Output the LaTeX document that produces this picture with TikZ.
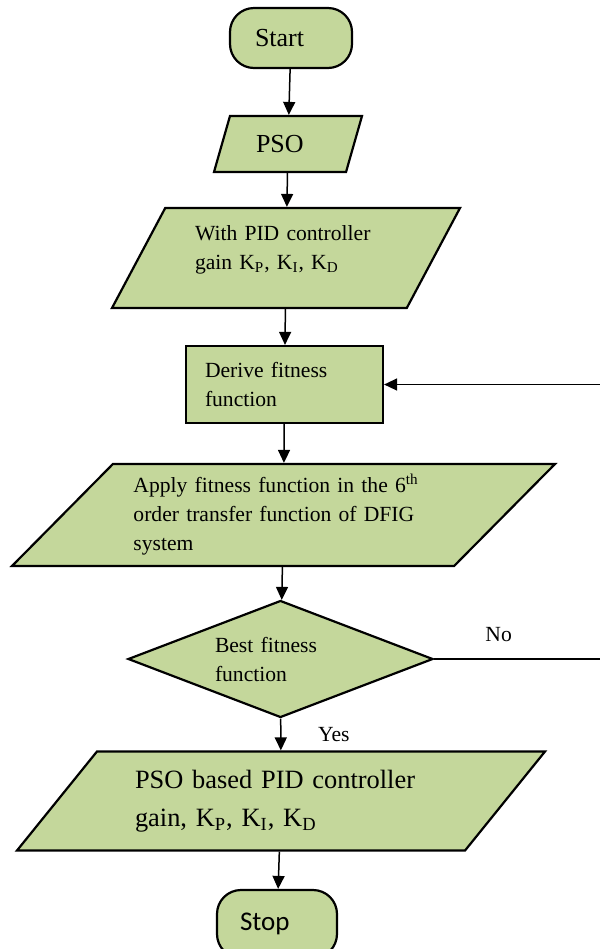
\documentclass[tikz,border=0pt]{standalone}
\usepackage{fontspec}
\setmainfont{Liberation Serif}
\newfontfamily\stopfont{Carlito}
\usepackage{tikz}
\usetikzlibrary{arrows.meta,shapes.geometric}
\definecolor{boxgreen}{RGB}{196,215,155}

\begin{document}
\begin{tikzpicture}[x=0.5pt,y=-0.5pt,->,>={Triangle[length=6.5pt,width=6pt]},
            line width=0.75pt,font=\fontsize{10.8}{14.5}\selectfont]
        \tikzstyle{terminal}=[draw,fill=boxgreen,line width=1.1pt,rounded corners=12pt,
            minimum width=61pt,minimum height=30pt,align=left,font=\fontsize{13}{16}\selectfont]
        \tikzstyle{io}=[draw,fill=boxgreen,line width=1.1pt,trapezium,
            trapezium stretches body,align=left]
        \tikzstyle{process}=[draw,fill=boxgreen,line width=1.1pt,rectangle,align=left]
        \tikzstyle{decision}=[draw,fill=boxgreen,line width=1.1pt,diamond,aspect=2.6,
            inner sep=0pt,align=left]
        \useasboundingbox (0,0) rectangle (600,949);

        \node[terminal,text width=36pt] (start) at (291,38) {Start};
        \node[io,trapezium left angle=62.6,trapezium right angle=117.4,
            minimum width=74pt,minimum height=28pt,text width=32pt,
            font=\fontsize{13}{16}\selectfont] (pso) at (288,144) {PSO};
        \node[io,trapezium left angle=55.8,trapezium right angle=124.2,
            minimum width=174pt,minimum height=50pt,text width=91pt] (gain) at (286,258)
            {With PID controller\\gain K\textsubscript{P}, K\textsubscript{I}, K\textsubscript{D}\\[-4pt]\mbox{}};
        \node[process,minimum width=98.5pt,minimum height=38.5pt,text width=79.5pt]
            (derive) at (284.5,384.5) {Derive fitness\\function};
        \node[io,trapezium left angle=43.1,trapezium right angle=136.9,
            minimum width=271.5pt,minimum height=51pt,text width=150pt] (apply) at (283.5,515)
            {Apply fitness function in the 6\textsuperscript{th}\\order transfer function of DFIG\\system};
        \node[decision,minimum width=152.5pt,minimum height=58.5pt,text width=65.5pt]
            (dec) at (280.5,659) {Best fitness\\function};
        \node[io,trapezium left angle=43.3,trapezium right angle=136.7,
            minimum width=264pt,minimum height=49.5pt,text width=146pt,
            font=\fontsize{13.2}{19}\selectfont] (result) at (281,801)
            {PSO based PID controller\\gain, K\textsubscript{P}, K\textsubscript{I}, K\textsubscript{D}};
        \node[terminal,minimum width=60pt,minimum height=34pt,text width=37pt,
            font=\stopfont\fontsize{13.5}{16}\selectfont] (stop) at (277,924) {Stop};
        \coordinate (fb) at (604,659);

        \path (start) edge (pso);
        \path (pso) edge (gain);
        \path (gain) edge (derive);
        \path (derive) edge (apply);
        \path (apply) edge (dec);
        \path (dec) edge node[right=15pt] {Yes} (result);
        \path (result) edge (stop);
        \draw (dec.east) -- node[above=5pt,pos=0.38] {No} (fb) |- (derive.east);
    \end{tikzpicture}
\end{document}
